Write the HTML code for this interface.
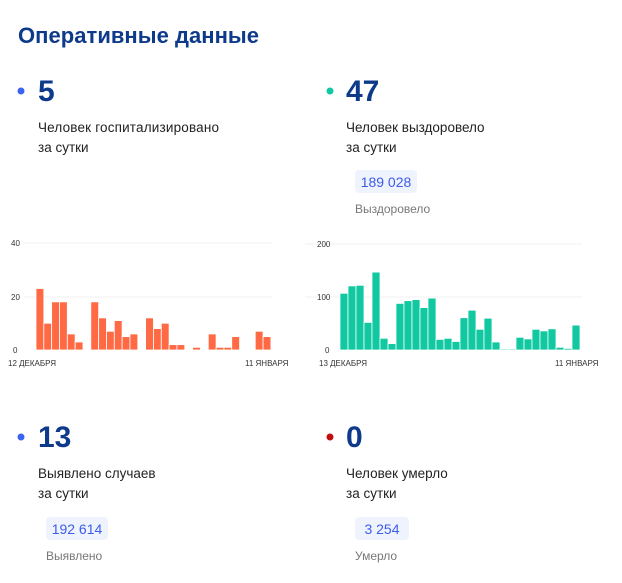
<!DOCTYPE html>
<html><head><meta charset="utf-8"><style>
body{margin:0;background:#fff;}
svg{display:block;font-family:"Liberation Sans",Arial,sans-serif;}
</style></head><body>
<svg width="622" height="583" viewBox="0 0 622 583" xmlns="http://www.w3.org/2000/svg">
<text x="18" y="43" font-size="22" font-weight="bold" fill="#0d3a8a" textLength="241">Оперативные данные</text>

<circle cx="21" cy="91" r="3.5" fill="#3b63f0"/>
<text x="38" y="101" font-size="30" font-weight="bold" fill="#0d3a8a">5</text>
<text x="38" y="132" font-size="13.5" fill="#222" textLength="181">Человек госпитализировано</text>
<text x="38" y="152" font-size="13.5" fill="#222">за сутки</text>

<circle cx="330" cy="91" r="3.5" fill="#10c9a0"/>
<text x="346" y="101" font-size="30" font-weight="bold" fill="#0d3a8a">47</text>
<text x="346" y="132" font-size="13.5" fill="#222">Человек выздоровело</text>
<text x="346" y="152" font-size="13.5" fill="#222">за сутки</text>
<rect x="355" y="170" width="62" height="23" rx="4" fill="#eef3fe"/>
<text x="386" y="187" font-size="14" fill="#3d5ce8" text-anchor="middle">189 028</text>
<text x="355" y="213" font-size="12" fill="#777">Выздоровело</text>

<circle cx="21" cy="437" r="3.5" fill="#3b63f0"/>
<text x="38" y="447" font-size="30" font-weight="bold" fill="#0d3a8a">13</text>
<text x="38" y="478" font-size="13.5" fill="#222">Выявлено случаев</text>
<text x="38" y="498" font-size="13.5" fill="#222">за сутки</text>
<rect x="46" y="517" width="62" height="23" rx="4" fill="#eef3fe"/>
<text x="77" y="534" font-size="14" fill="#3d5ce8" text-anchor="middle">192 614</text>
<text x="46" y="560" font-size="12" fill="#777">Выявлено</text>

<circle cx="330" cy="437" r="3.5" fill="#c00d0d"/>
<text x="346" y="447" font-size="30" font-weight="bold" fill="#0d3a8a">0</text>
<text x="346" y="478" font-size="13.5" fill="#222">Человек умерло</text>
<text x="346" y="498" font-size="13.5" fill="#222">за сутки</text>
<rect x="355" y="517" width="54" height="23" rx="4" fill="#eef3fe"/>
<text x="382" y="534" font-size="14" fill="#3d5ce8" text-anchor="middle">3 254</text>
<text x="355" y="560" font-size="12" fill="#777">Умерло</text>

<g font-size="8" fill="#333">
<line x1="24" y1="243" x2="272" y2="243" stroke="#f0f0f0"/>
<line x1="24" y1="297" x2="272" y2="297" stroke="#f0f0f0"/>
<text x="11" y="246">40</text><text x="11" y="300">20</text><text x="13" y="353">0</text>
<text x="8" y="366">12 ДЕКАБРЯ</text><text x="245" y="366">11 ЯНВАРЯ</text>
<line x1="305" y1="244" x2="582" y2="244" stroke="#f0f0f0"/>
<line x1="305" y1="297" x2="582" y2="297" stroke="#f0f0f0"/>
<text x="317" y="247">200</text><text x="317" y="300">100</text><text x="325" y="353">0</text>
<text x="319" y="366">13 ДЕКАБРЯ</text><text x="555" y="366">11 ЯНВАРЯ</text>
</g>
<g fill="#ff6a45" stroke="#ffffff" stroke-width="0.8">
<rect x="36" y="288.5" width="7.83" height="61.5"/>
<rect x="43.83" y="323.25" width="7.83" height="26.75"/>
<rect x="51.66" y="301.85" width="7.83" height="48.15"/>
<rect x="59.49" y="301.85" width="7.83" height="48.15"/>
<rect x="67.32" y="333.95" width="7.83" height="16.05"/>
<rect x="75.15" y="341.97" width="7.83" height="8.03"/>
<rect x="90.81" y="301.85" width="7.83" height="48.15"/>
<rect x="98.64" y="317.9" width="7.83" height="32.1"/>
<rect x="106.47" y="331.27" width="7.83" height="18.73"/>
<rect x="114.3" y="320.57" width="7.83" height="29.43"/>
<rect x="122.13" y="336.62" width="7.83" height="13.38"/>
<rect x="129.96" y="333.95" width="7.83" height="16.05"/>
<rect x="145.62" y="317.9" width="7.83" height="32.1"/>
<rect x="153.45" y="328.6" width="7.83" height="21.4"/>
<rect x="161.28" y="323.25" width="7.83" height="26.75"/>
<rect x="169.11" y="344.65" width="7.83" height="5.35"/>
<rect x="176.94" y="344.65" width="7.83" height="5.35"/>
<rect x="192.6" y="347.32" width="7.83" height="2.68"/>
<rect x="208.26" y="333.95" width="7.83" height="16.05"/>
<rect x="216.09" y="347.32" width="7.83" height="2.68"/>
<rect x="223.92" y="347.32" width="7.83" height="2.68"/>
<rect x="231.75" y="336.62" width="7.83" height="13.38"/>
<rect x="255.24" y="331.27" width="7.83" height="18.73"/>
<rect x="263.07" y="336.62" width="7.83" height="13.38"/>
</g>
<g fill="#10c9a0" stroke="#ffffff" stroke-width="0.8">
<rect x="340" y="293.3" width="8" height="56.7"/>
<rect x="348" y="285.9" width="8" height="64.1"/>
<rect x="356" y="285.3" width="8" height="64.7"/>
<rect x="364" y="322.4" width="8" height="27.6"/>
<rect x="372" y="272.1" width="8" height="77.9"/>
<rect x="380" y="338.3" width="8" height="11.7"/>
<rect x="388" y="343.6" width="8" height="6.4"/>
<rect x="396" y="303.4" width="8" height="46.6"/>
<rect x="404" y="300.7" width="8" height="49.3"/>
<rect x="412" y="299.6" width="8" height="50.4"/>
<rect x="420" y="307.6" width="8" height="42.4"/>
<rect x="428" y="298.1" width="8" height="51.9"/>
<rect x="436" y="339.4" width="8" height="10.6"/>
<rect x="444" y="338.3" width="8" height="11.7"/>
<rect x="452" y="341.5" width="8" height="8.5"/>
<rect x="460" y="317.7" width="8" height="32.3"/>
<rect x="468" y="310.2" width="8" height="39.8"/>
<rect x="476" y="329.3" width="8" height="20.7"/>
<rect x="484" y="318.2" width="8" height="31.8"/>
<rect x="492" y="342" width="8" height="8"/>
<rect x="500" y="348.9" width="8" height="1.1"/>
<rect x="508" y="348.9" width="8" height="1.1"/>
<rect x="516" y="337.3" width="8" height="12.7"/>
<rect x="524" y="338.9" width="8" height="11.1"/>
<rect x="532" y="329.3" width="8" height="20.7"/>
<rect x="540" y="330.9" width="8" height="19.1"/>
<rect x="548" y="328.8" width="8" height="21.2"/>
<rect x="556" y="347.3" width="8" height="2.7"/>
<rect x="564" y="348.4" width="8" height="1.6"/>
<rect x="572" y="325.1" width="8" height="24.9"/>
</g>
</svg>
</body></html>
